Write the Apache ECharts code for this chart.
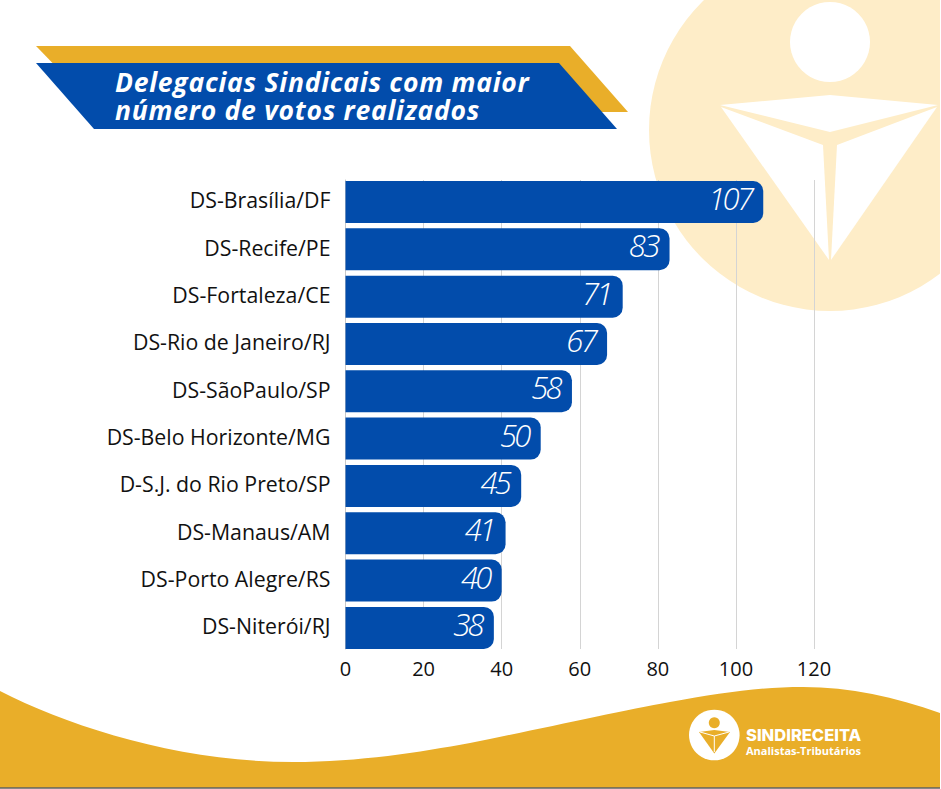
<!DOCTYPE html>
<html>
<head>
<meta charset="utf-8">
<style>
html,body{margin:0;padding:0;background:#fff}
#chart{width:941px;height:789px}
</style>
<script src="https://cdn.jsdelivr.net/npm/echarts@6/dist/echarts.min.js"></script>
</head>
<body>
<div id="chart"></div>
<script>
const categories = ['DS-Brasília/DF', 'DS-Recife/PE', 'DS-Fortaleza/CE', 'DS-Rio de Janeiro/RJ', 'DS-SãoPaulo/SP',
  'DS-Belo Horizonte/MG', 'D-S.J. do Rio Preto/SP', 'DS-Manaus/AM', 'DS-Porto Alegre/RS', 'DS-Niterói/RJ'];
const votes = [107, 83, 71, 67, 58, 50, 45, 41, 40, 38];
const titleText = 'Delegacias Sindicais com maior\nnúmero de votos realizados';
const BLUE = '#024cab';
const GOLD = '#e9ae29';
const CREAM = '#feedc8';

// onda do rodape
echarts.graphic.registerShape('wave', echarts.graphic.extendPath(
  'M0 691 C70 727 180 762 293 762 C360 762 420 752 470 743 C540 729 620 711 670 702 C720 693 760 687 803 687 C850 687 895 697 940 713 L940 787.5 L0 787.5 Z',
  {}
));

const chart = echarts.init(document.getElementById('chart'), null, { renderer: 'svg' });

// fundo: marca d'agua, faixas do titulo, onda e logo
const backdrop = [
  { type: 'circle', shape: { cx: 830, cy: 130, r: 181 }, style: { fill: CREAM }, z: -10 },
  { type: 'rect', shape: { x: 940, y: 0, width: 1, height: 789 }, style: { fill: '#fff' }, z: -9 },
  { type: 'circle', shape: { cx: 830, cy: 42, r: 40 }, style: { fill: '#fff' }, z: -9 },
  { type: 'polygon', shape: { points: [[720, 105], [830, 95], [938, 105], [830, 132]] }, style: { fill: '#fff' }, z: -9 },
  { type: 'polygon', shape: { points: [[721, 107], [823, 145], [829, 260]] }, style: { fill: '#fff' }, z: -9 },
  { type: 'polygon', shape: { points: [[937, 107], [837, 145], [831, 260]] }, style: { fill: '#fff' }, z: -9 },
  { type: 'polygon', shape: { points: [[36, 46], [570, 46], [628, 112], [100, 112]] }, style: { fill: GOLD }, z: -8 },
  { type: 'polygon', shape: { points: [[36, 63], [559, 63], [617, 129], [94, 129]] }, style: { fill: BLUE }, z: -7 },
  { type: 'wave', style: { fill: GOLD }, z: -8 },
  { type: 'rect', shape: { x: 0, y: 787.4, width: 940, height: 1.2 }, style: { fill: '#111' }, z: -8 },
  { type: 'circle', shape: { cx: 714.3, cy: 735, r: 25.3 }, style: { fill: '#fff' }, z: -6 },
  { type: 'circle', shape: { cx: 714.3, cy: 722.7, r: 5.5 }, style: { fill: GOLD }, z: -5 },
  { type: 'polygon', shape: { points: [[699, 732], [714.3, 730], [730, 732], [714.3, 753.5]] }, style: { fill: GOLD }, z: -5 },
  { type: 'polyline', shape: { points: [[700, 732], [714.3, 736], [729, 732]] }, style: { stroke: '#fff', fill: 'none', lineWidth: 1 }, z: -5 },
  { type: 'line', shape: { x1: 714.3, y1: 736, x2: 714.3, y2: 752 }, style: { stroke: '#fff', lineWidth: 1 }, z: -5 },
  { type: 'text', x: 746, y: 728, style: { text: 'SINDIRECEITA', fill: '#fff', font: '800 16.5px Inter', lineHeight: 14 }, z: -4 },
  { type: 'text', x: 746, y: 744.5, style: { text: 'Analistas-Tributários', fill: '#fff', font: '700 11px "Open Sans"', lineHeight: 11 }, z: -4 }
];

const option = {
  animation: false,
  title: {
    text: titleText,
    left: 110,
    top: 63,
    textStyle: { color: '#fff', fontFamily: 'Open Sans', fontStyle: 'italic', fontWeight: 700, fontSize: 26.5, lineHeight: 28 }
  },
  graphic: backdrop,
  // grid 0: linhas e eixo x; grid 1: barras, com passo um pouco maior; grid 2: so os nomes, 2px acima das barras
  grid: [
    { left: 345.5, top: 180, width: 468.5, height: 469 },
    { left: 345.5, top: 178.3, width: 468.5, height: 473.3 },
    { left: 345.5, top: 176.3, width: 468.5, height: 473.3 }
  ],
  xAxis: [{
    type: 'value',
    gridIndex: 0,
    min: 0,
    max: 120,
    interval: 20,
    axisLine: { show: false },
    axisTick: { show: false },
    axisLabel: { color: '#111', fontFamily: 'Open Sans', fontSize: 20, margin: 9 },
    splitLine: { lineStyle: { color: '#d4d4d4', width: 1 } }
  }, {
    type: 'value',
    gridIndex: 1,
    min: 0,
    max: 120,
    interval: 20,
    show: false
  }, {
    type: 'value',
    gridIndex: 2,
    min: 0,
    max: 120,
    interval: 20,
    show: false
  }],
  yAxis: [{
    type: 'category',
    gridIndex: 0,
    inverse: true,
    data: categories,
    axisLine: { show: true, lineStyle: { color: '#c8c8c8', width: 1 } },
    axisTick: { show: false },
    axisLabel: { show: false }
  }, {
    type: 'category',
    gridIndex: 1,
    inverse: true,
    data: categories,
    axisLine: { show: false },
    axisTick: { show: false },
    axisLabel: { show: false }
  }, {
    type: 'category',
    gridIndex: 2,
    inverse: true,
    data: categories,
    axisLine: { show: false },
    axisTick: { show: false },
    axisLabel: { color: '#111', fontFamily: 'Open Sans', fontSize: 21.3, margin: 15 }
  }],
  series: [{
    type: 'bar',
    xAxisIndex: 1,
    yAxisIndex: 1,
    data: votes,
    barWidth: 42,
    itemStyle: { color: BLUE, borderRadius: [0, 10, 10, 0] },
    label: {
      show: true,
      position: 'insideRight',
      distance: 12,
      offset: [0, -4],
      color: '#fff',
      fontFamily: 'Open Sans',
      fontStyle: 'italic',
      fontWeight: 300,
      fontSize: 31
    }
  }]
};
chart.setOption(option);

// echarts nao tem letter-spacing: ajusta direto nos textos do svg
function tightenText() {
  document.querySelectorAll('#chart text').forEach(function (el) {
    const cs = getComputedStyle(el);
    if (cs.fontStyle !== 'italic') return;
    el.style.letterSpacing = cs.fontWeight === '300' ? '-2.7px' : '0.75px';
  });
}
tightenText();
chart.on('finished', tightenText);
</script>
</body>
</html>
